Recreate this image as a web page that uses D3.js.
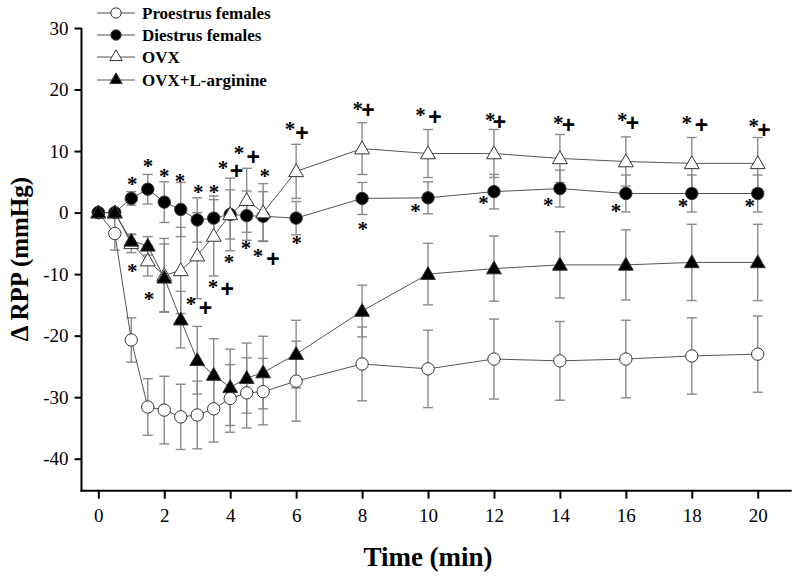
<!DOCTYPE html>
<html>
<head>
<meta charset="utf-8">
<script src="https://cdn.jsdelivr.net/npm/d3@7"></script>
<style>
  html, body { margin: 0; padding: 0; background: #fff; }
  svg { display: block; }
</style>
</head>
<body>
<svg id="chart" width="800" height="579"></svg>
<script>
// ---- data ----
const times = [0, 0.5, 1, 1.5, 2, 2.5, 3, 3.5, 4, 4.5, 5, 6, 8, 10, 12, 14, 16, 18, 20];

const proestrus    = [0, -3.4, -20.7, -31.6, -32.1, -33.2, -32.9, -31.9, -30.2, -29.3, -29.1, -27.4, -24.6, -25.4, -23.8, -24.1, -23.8, -23.3, -23.0];
const proestrusErr = [0.3, 2.7, 3.6, 4.6, 5.5, 5.3, 5.5, 5.4, 5.5, 5.7, 5.4, 6.5, 6.0, 6.3, 6.5, 6.4, 6.3, 6.2, 6.2];

const diestrus    = [0, 0, 2.3, 3.8, 1.7, 0.5, -1.2, -0.9, -0.3, -0.5, -0.6, -0.9, 2.3, 2.4, 3.4, 3.9, 3.1, 3.1, 3.1];
const diestrusErr = [0.3, 0.3, 1.1, 2.4, 3.3, 4.4, 3.6, 3.0, 4.0, 4.0, 4.0, 2.7, 2.6, 2.6, 2.8, 3.0, 3.0, 3.0, 3.0];

const ovx    = [0, 0, -5.0, -7.8, -10.2, -9.4, -7.0, -3.8, -0.3, 2.0, 0.0, 6.7, 10.4, 9.6, 9.6, 8.8, 8.3, 8.0, 8.0];
const ovxErr = [0.3, 0.3, 1.5, 2.5, 6.0, 7.0, 7.0, 6.5, 5.9, 5.2, 4.7, 4.4, 4.2, 3.9, 3.9, 3.9, 4.0, 4.2, 4.2];

const ovxArg    = [0, 0, -4.6, -5.4, -10.6, -17.4, -24.0, -26.4, -28.4, -26.9, -26.0, -23.0, -16.0, -10.0, -9.1, -8.5, -8.5, -8.1, -8.1];
const ovxArgErr = [0.3, 0.3, 1.0, 1.5, 5.5, 4.6, 5.5, 5.9, 6.2, 5.7, 5.9, 5.5, 4.2, 5.0, 5.3, 5.4, 5.7, 6.2, 6.2];

const seriesNames = ["Proestrus females", "Diestrus females", "OVX", "OVX+L-arginine"];
const xTicks = [0, 2, 4, 6, 8, 10, 12, 14, 16, 18, 20];
const yTicks = [30, 20, 10, 0, -10, -20, -30, -40];

// significance marks: time, value (data units)
const starTimes  = [1.03, 1.51, 2.0, 2.48, 3.03, 3.51, 3.78, 4.27, 5.05, 4.48, 4.84, 3.96, 1.03, 1.54, 3.48, 2.81, 5.81, 6.02, 7.87, 8.02, 9.77, 9.62, 11.89, 11.68, 13.95, 13.65, 15.89, 15.70, 17.85, 17.73, 19.88, 19.76];
const starValues = [5.2, 8.0, 6.5, 5.7, 3.9, 3.9, 7.8, 10.1, 6.5, -5.2, -6.5, -7.5, -9.0, -13.5, -11.6, -14.3, 14.0, -4.4, 17.4, -2.1, 16.3, 0.8, 15.5, 2.0, 15.1, 1.8, 15.6, 0.7, 15.1, 1.6, 14.5, 1.5];
const plusTimes  = [4.19, 4.70, 5.30, 3.91, 3.25, 6.18, 8.18, 10.21, 12.17, 14.26, 16.20, 18.29, 20.19];
const plusValues = [6.7, 9.1, -7.5, -12.5, -15.5, 13.0, 16.6, 15.5, 14.7, 14.2, 14.5, 14.3, 13.5];

// ---- layout ----
const svg = d3.select("#chart");
const x = d3.scaleLinear().domain([-0.51, 21.03]).range([81.5, 791.7]);
const y = d3.scaleLinear().domain([-45.2, 30]).range([490.7, 28]);

const serif = "'Liberation Serif', 'Times New Roman', serif";

const series = [
  { name: seriesNames[0], vals: proestrus, err: proestrusErr, shape: d3.symbolCircle, fill: "#fff", size: 120 },
  { name: seriesNames[1], vals: diestrus,  err: diestrusErr,  shape: d3.symbolCircle, fill: "#000", size: 120 },
  { name: seriesNames[2], vals: ovx,       err: ovxErr,       shape: d3.symbolTriangle, fill: "#fff", size: 95 },
  { name: seriesNames[3], vals: ovxArg,    err: ovxArgErr,    shape: d3.symbolTriangle, fill: "#000", size: 95 }
];

// error bars
const eb = svg.append("g").attr("stroke", "#8a8a8a").attr("stroke-width", 1.4).attr("fill", "none");
series.forEach(s => {
  times.forEach((t, i) => {
    const cx = x(t), y1 = y(s.vals[i] + s.err[i]), y2 = y(s.vals[i] - s.err[i]);
    eb.append("line").attr("x1", cx).attr("x2", cx).attr("y1", y1).attr("y2", y2);
    eb.append("line").attr("x1", cx - 5).attr("x2", cx + 5).attr("y1", y1).attr("y2", y1);
    eb.append("line").attr("x1", cx - 5).attr("x2", cx + 5).attr("y1", y2).attr("y2", y2);
  });
});

// lines + markers
const line = d3.line().x(d => x(d[0])).y(d => y(d[1]));
series.forEach(s => {
  svg.append("path")
    .datum(times.map((t, i) => [t, s.vals[i]]))
    .attr("d", line).attr("fill", "none").attr("stroke", "#555").attr("stroke-width", 1);
});
series.forEach(s => {
  const sym = d3.symbol().type(s.shape).size(s.size);
  svg.append("g").selectAll("path").data(times.map((t, i) => [t, s.vals[i]])).join("path")
    .attr("d", sym)
    .attr("transform", d => `translate(${x(d[0])},${y(d[1]) + (s.shape === d3.symbolTriangle ? 1 : 0)})`)
    .attr("fill", s.fill).attr("stroke", "#333").attr("stroke-width", 1);
});

// significance marks
svg.append("g").selectAll("text").data(starTimes.map((t, i) => [t, starValues[i]])).join("text")
  .attr("x", d => x(d[0])).attr("y", d => y(d[1]) + 10)
  .attr("text-anchor", "middle")
  .style("font-family", serif).style("font-weight", "bold").style("font-size", "21px")
  .text("*");
svg.append("g").selectAll("text").data(plusTimes.map((t, i) => [t, plusValues[i]])).join("text")
  .attr("x", d => x(d[0])).attr("y", d => y(d[1]) + 8)
  .attr("text-anchor", "middle")
  .style("font-family", "'Liberation Sans', Arial, sans-serif").style("font-weight", "bold").style("font-size", "23px")
  .text("+");

// axes
const xAxis = svg.append("g").attr("transform", "translate(0,490.7)")
  .call(d3.axisBottom(x).tickValues(xTicks).tickSize(8).tickPadding(10).tickSizeOuter(0));
const yAxis = svg.append("g").attr("transform", "translate(81.5,0)")
  .call(d3.axisLeft(y).tickValues(yTicks).tickSize(7).tickPadding(6).tickSizeOuter(0)
        .tickFormat(d => d < 0 ? "-" + Math.abs(d) : String(d)));
[xAxis, yAxis].forEach(a => {
  a.select(".domain").attr("stroke", "#000").attr("stroke-width", 2);
  a.selectAll(".tick line").attr("stroke", "#000").attr("stroke-width", 2);
  a.selectAll(".tick text").attr("fill", "#000")
    .style("font-family", serif).style("font-size", "19px");
});
xAxis.select(".domain").attr("d", `M${81.5 - 1},0H${791.7}`);
yAxis.select(".domain").attr("d", `M0,${y(30)}V${490.7 + 1}`);

// axis titles
svg.append("text").attr("x", 428).attr("y", 566)
  .attr("text-anchor", "middle")
  .style("font-family", serif).style("font-weight", "bold").style("font-size", "27px")
  .text("Time (min)");
svg.append("text").attr("transform", "translate(28,259) rotate(-90)")
  .attr("text-anchor", "middle")
  .style("font-family", serif).style("font-weight", "bold").style("font-size", "25px")
  .text("Δ RPP (mmHg)");

// legend
const legendY = [13, 35, 57, 80];
const lg = svg.append("g");
series.forEach((s, i) => {
  const ly = legendY[i];
  lg.append("line").attr("x1", 97).attr("x2", 135).attr("y1", ly).attr("y2", ly)
    .attr("stroke", "#555").attr("stroke-width", 1);
  lg.append("path").attr("d", d3.symbol().type(s.shape).size(s.size * 0.7)())
    .attr("transform", `translate(116,${ly})`)
    .attr("fill", s.fill).attr("stroke", "#333").attr("stroke-width", 1);
  lg.append("text").attr("x", 142).attr("y", ly + 6)
    .style("font-family", serif).style("font-weight", "bold").style("font-size", "17px")
    .text(s.name);
});
</script>
</body>
</html>
